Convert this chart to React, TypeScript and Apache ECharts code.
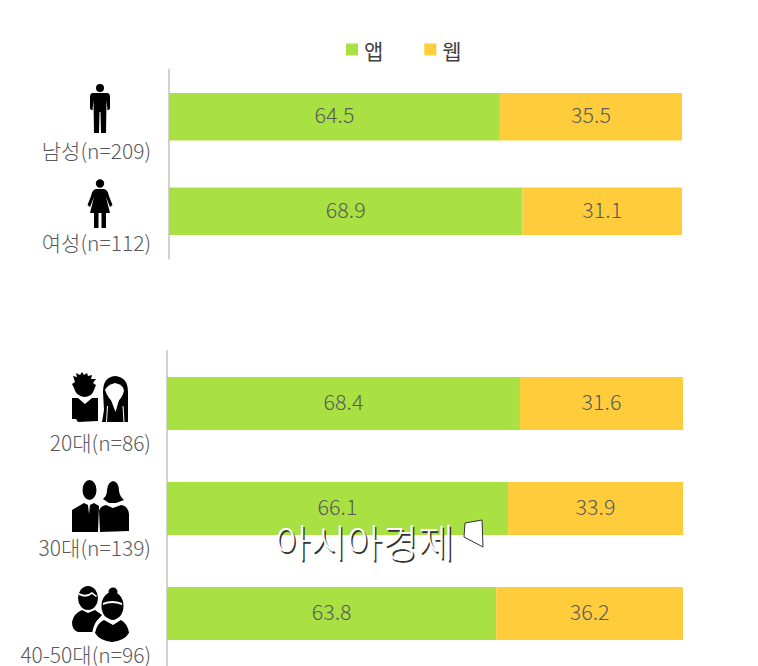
import React, { useEffect, useRef } from "react";
import * as echarts from "echarts";

const genderCategories = ["남성(n=209)", "여성(n=112)"];
const genderApp = [64.5, 68.9];
const genderWeb = [35.5, 31.1];
const ageCategories = ["20대(n=86)", "30대(n=139)", "40-50대(n=96)"];
const ageApp = [68.4, 66.1, 63.8];
const ageWeb = [31.6, 33.9, 36.2];
const seriesNames = ["앱", "웹"];
const GREEN = "#A9E142";
const YELLOW = "#FFCD3B";
const TEXT = "#595959";
const FONT = "'Noto Sans CJK KR', sans-serif";

const circle = (cx: number, cy: number, rx: number, ry = rx) =>
  `M${cx - rx},${cy}A${rx},${ry} 0 1 1 ${cx + rx},${cy}A${rx},${ry} 0 1 1 ${cx - rx},${cy}Z`;

const iconPaths: [string, string][] = [
  // man
  [circle(100, 88, 4) + "M93,93L107,93Q110,93 110,97L110,109L107.5,110.5L106.5,100L106,133L101,133L100.5,112L99.5,112L99,133L94,133L93.5,100L92.5,110.5L90,109L90,97Q90,93 93,93Z", "#000"],
  // woman
  [circle(100, 183.5, 4.2) + "M96,189L104,189Q108,190 109,196L112.5,205L110,207L106,197L110,213L106,213L106,228L101.5,228L101.5,213L98.5,213L98.5,228L94,228L94,213L90,213L94,197L90,207L87.5,205L91,196Q92,190 96,189Z", "#000"],
  // 20s boy
  ["M73,376L77,377L76,373L80,375L82,372L84,375L87,373L88,376L92,375L91,379L96,379L93,383L96,385L94,390Q92,397 84,397Q76,396 74,388L72,384L75,382Z", "#000"],
  ["M72,398L78,398L85,404L92,398L98,398L98,421L78,422L76,419L72,419Z", "#000"],
  // 20s girl
  ["M115,376Q128,377 128,392L128,422L102,422L104,410L103,392Q103,377 115,376Z", "#000"],
  ["M115,383Q124,385 124,391Q122,399 115,404Q108,399 105,390Q107,385 115,383Z", "#fff"],
  ["M111,400L119,400L115.5,412Z", "#fff"],
  ["M107,406L108,406L107,422L106,422Z", "#fff"],
  ["M122.5,406L123.5,406L124.5,422L123.5,422Z", "#fff"],
  // 30s man
  [circle(89.5, 490, 7, 10), "#000"],
  ["M72,510L84,503L88,505L89,514L90,505L94,503L99,506L98,532L72,532Z", "#000"],
  // 30s woman
  ["M113,481Q119,482 119,491Q120,497 124,500L116,503L109,503L103,499Q107,496 107,490Q108,482 113,481Z", "#000"],
  ["M99,511Q100,506 106,505L113,508L121,505Q128,506 129,514L129,531L100,532Z", "#000"],
  // 40-50s man
  [circle(88, 598, 10, 12), "#000"],
  ["M72,622Q74,613 82,610L88,613L95,610L102,615L96,622L94,632L78,632Q72,630 72,622Z", "#000"],
  ["M79,593Q86,597 92,592L97,596L96,597L92,594Q86,599 79,595Z", "#fff"],
  // 40-50s woman
  [circle(112.5, 606, 12.5, 15.5), "#fff"],
  [circle(113, 592, 4.5) + circle(112.5, 606, 11, 14), "#000"],
  ["M92,634Q94,619 104,616L113,621L121,616Q130,620 130,634Q124,644 112,645Q98,644 92,634Z", "#fff"],
  ["M95,633Q97,623 104,620L113,625L121,620Q128,624 129,633Q124,641 112,642Q100,641 95,633Z", "#000"],
  ["M103,603Q112,599 122,603L122,605Q112,601 103,605Z", "#fff"],
];

iconPaths.forEach(([d], i) => {
  echarts.graphic.registerShape("figure" + i, echarts.graphic.extendPath(d, {}));
});

const genderPads = [23, 20];
const agePads = [28, 28, 30];

export default function App() {
  const ref = useRef<HTMLDivElement>(null);
  useEffect(() => {
    document.body.style.margin = "0";
    const chart = echarts.init(ref.current!, undefined, { renderer: "svg" });
    const mkY = (cats: string[], gridIndex: number, pads: number[], margin: number) => {
      const rich: Record<string, any> = {};
      pads.forEach((p, i) => {
        rich["l" + i] = {
          color: TEXT,
          fontFamily: FONT,
          fontSize: 21,
          fontWeight: 300,
          padding: [p, 0, 0, 0],
        };
      });
      return {
        type: "category" as const,
        data: cats,
        inverse: true,
        gridIndex,
        axisTick: { show: false },
        axisLine: { show: true, lineStyle: { color: "#D2D2D2", width: 2 } },
        axisLabel: {
          margin,
          verticalAlign: "top" as const,
          formatter: (v: string, i: number) => `{l${i}|${v}}`,
          rich,
        },
      };
    };
    const mkX = (gridIndex: number) => ({
      type: "value" as const,
      min: 0,
      max: 100,
      gridIndex,
      show: false,
    });
    const mkBar = (name: string, data: number[], color: string, idx: number, width: number) => ({
      name,
      type: "bar" as const,
      stack: "s" + idx,
      xAxisIndex: idx,
      yAxisIndex: idx,
      data,
      barWidth: width,
      itemStyle: { color },
      label: {
        show: true,
        position: "inside" as const,
        offset: [0, -3],
        color: TEXT,
        fontFamily: FONT,
        fontSize: 21.5,
        fontWeight: 300,
        formatter: (p: any) => Number(p.value).toFixed(1),
      },
    });
    const wm = "아시아경제";
    const wmBase = { text: wm, font: `300 39px ${FONT}` };
    chart.setOption({
      animation: false,
      backgroundColor: "#fff",
      legend: {
        data: seriesNames,
        left: 346,
        top: 39,
        padding: 0,
        icon: "rect",
        itemWidth: 12,
        itemHeight: 12,
        itemGap: 41,
        textStyle: { color: "#404040", fontFamily: FONT, fontSize: 21, fontWeight: 400, padding: [0, 0, 0, 1] },
      },
      grid: [
        { left: 169, width: 513, top: 69.5, height: 189 },
        { left: 167, width: 516, top: 351, height: 315 },
      ],
      xAxis: [mkX(0), mkX(1)],
      yAxis: [mkY(genderCategories, 0, genderPads, 18), mkY(ageCategories, 1, agePads, 16)],
      series: [
        mkBar(seriesNames[0], genderApp, GREEN, 0, 47.5),
        mkBar(seriesNames[1], genderWeb, YELLOW, 0, 47.5),
        mkBar(seriesNames[0], ageApp, GREEN, 1, 53),
        mkBar(seriesNames[1], ageWeb, YELLOW, 1, 53),
      ],
      graphic: [
        ...iconPaths.map(([, fill], i) => ({
          type: "figure" + i,
          x: 0,
          y: 0,
          z: 10 + i,
          style: { fill },
        })),
        { type: "text", x: 276, y: 522, z: 50, style: { ...wmBase, fill: "#333" } },
        { type: "text", x: 274.5, y: 520.5, z: 51, style: { ...wmBase, fill: "#fff" } },
        {
          type: "polygon",
          z: 52,
          shape: { points: [[465, 523], [482, 520], [483, 547], [464, 537]] },
          style: { fill: "#fff", stroke: "#333", lineWidth: 1 },
        },
      ],
    });
    return () => chart.dispose();
  }, []);
  return <div ref={ref} style={{ width: 758, height: 666 }} />;
}
